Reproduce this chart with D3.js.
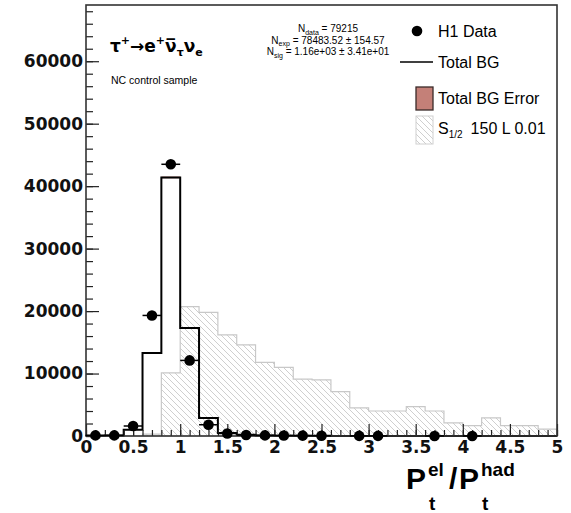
<!DOCTYPE html>
<html><head><meta charset="utf-8">
<script src="https://cdn.jsdelivr.net/npm/d3@7"></script>
<style>body{margin:0;background:#fff}svg{display:block}</style>
</head><body><svg id="c" width="571" height="513"></svg>
<script>
const binLow  = [0,0.2,0.4,0.6,0.8,1.0,1.2,1.4,1.6,1.8,2.0,2.2,2.4,2.6,2.8,3.0,3.2,3.4,3.6,3.8,4.0,4.2,4.4,4.6,4.8];
const binHigh = [0.2,0.4,0.6,0.8,1.0,1.2,1.4,1.6,1.8,2.0,2.2,2.4,2.6,2.8,3.0,3.2,3.4,3.6,3.8,4.0,4.2,4.4,4.6,4.8,5.0];
const binCenter = [0.1,0.3,0.5,0.7,0.9,1.1,1.3,1.5,1.7,1.9,2.1,2.3,2.5,2.7,2.9,3.1,3.3,3.5,3.7,3.9,4.1,4.3,4.5,4.7,4.9];
const h1Data   = [100,100,1600,19300,43500,12100,1800,400,150,100,80,60,40,0,20,20,0,0,10,0,10,0,0,0,0];
const totalBG  = [50,80,1000,13300,41400,17300,2900,500,200,100,60,40,30,20,15,10,8,6,5,4,3,2,2,1,1];
const totalBGErr = [10,15,40,90,150,100,40,20,10,8,6,5,4,3,3,2,2,2,2,1,1,1,1,1,1];
const signalS12 = [0,0,0,300,10100,20700,19800,16200,14600,11800,11000,9100,9000,7100,4500,4000,4000,4700,4000,2100,1650,2900,1650,1650,1100];
const xTickVals = [0,0.5,1,1.5,2,2.5,3,3.5,4,4.5,5];
const xTickLabels = ["0","0.5","1","1.5","2","2.5","3","3.5","4","4.5","5"];
const yTickVals = [0,10000,20000,30000,40000,50000,60000];
const yTickLabels = ["0","10000","20000","30000","40000","50000","60000"];
const statsLines = [["N","data"," = 79215"],["N","exp"," = 78483.52 \u00b1 154.57"],["N","sig"," = 1.16e+03 \u00b1 3.41e+01"]];

const svg = d3.select("#c");
const X0=86, X1=557, Y0=436, Y1=5;
const x = d3.scaleLinear().domain([0,5]).range([X0,X1]);
const y = d3.scaleLinear().domain([0,69000]).range([Y0,Y1]);

const defs = svg.append("defs");
const pat = defs.append("pattern").attr("id","hatch").attr("patternUnits","userSpaceOnUse")
  .attr("width",6).attr("height",6);
pat.append("path").attr("d","M-1,-1 L7,7 M-1,5 L1,7 M5,-1 L7,1")
  .attr("stroke","#cacaca").attr("stroke-width",0.9).attr("fill","none");

function stepPoints(vals){
  const pts=[[binLow[0],0]];
  vals.forEach((v,i)=>{pts.push([binLow[i],v]);pts.push([binHigh[i],v]);});
  pts.push([binHigh[binHigh.length-1],0]);
  return pts;
}
const line = d3.line().x(d=>x(d[0])).y(d=>y(d[1]));

// signal hatched
svg.append("path").attr("d", line(stepPoints(signalS12))+"Z").attr("fill","url(#hatch)").attr("stroke","#c8c8c8").attr("stroke-width",1.2);

// BG error band
svg.append("g").selectAll("rect").data(totalBG).join("rect")
  .attr("x",(d,i)=>x(binLow[i])).attr("width",(d,i)=>x(binHigh[i])-x(binLow[i]))
  .attr("y",(d,i)=>y(d+totalBGErr[i])).attr("height",(d,i)=>Math.max(0,y(d-totalBGErr[i])-y(d+totalBGErr[i])))
  .attr("fill","#c48078").attr("opacity",0.8);

// BG line
svg.append("path").attr("d", line(stepPoints(totalBG))).attr("fill","none").attr("stroke","#000").attr("stroke-width",2);

// axes
const fontTick = "'DejaVu Sans', sans-serif";
const xMinor = d3.range(0,5.0001,0.1);
const yMinor = d3.range(0,69000,2000);
svg.append("g").attr("transform",`translate(0,${Y0})`)
  .call(d3.axisBottom(x).tickValues(xMinor).tickSize(-6).tickFormat("")).call(g=>g.select(".domain").remove())
  .selectAll("line").attr("stroke","#222").attr("stroke-width",1.2);
svg.append("g").attr("transform",`translate(${X0},0)`)
  .call(d3.axisLeft(y).tickValues(yMinor).tickSize(-7).tickFormat("")).call(g=>g.select(".domain").remove())
  .selectAll("line").attr("stroke","#222").attr("stroke-width",1.2);
const gx = svg.append("g").attr("transform",`translate(0,${Y0})`)
  .call(d3.axisBottom(x).tickValues(xTickVals).tickSize(-12).tickPadding(5).tickFormat((d,i)=>xTickLabels[i]));
gx.select(".domain").remove();
gx.selectAll("line").attr("stroke","#222").attr("stroke-width",1.2);
gx.selectAll("text").attr("font-family",fontTick).attr("font-weight","bold").attr("font-size",17).attr("fill","#111");
const gy = svg.append("g").attr("transform",`translate(${X0},0)`)
  .call(d3.axisLeft(y).tickValues(yTickVals).tickSize(-13).tickPadding(3).tickFormat((d,i)=>yTickLabels[i]));
gy.select(".domain").remove();
gy.selectAll("line").attr("stroke","#222").attr("stroke-width",1.2);
gy.selectAll("text").attr("font-family",fontTick).attr("font-weight","bold").attr("font-size",17).attr("fill","#111");

// frame
svg.append("rect").attr("x",X0).attr("y",Y1).attr("width",X1-X0).attr("height",Y0-Y1)
  .attr("fill","none").attr("stroke","#333").attr("stroke-width",1.6);

// data points
const pts = h1Data.map((v,i)=>({v,c:binCenter[i],lo:binLow[i],hi:binHigh[i]})).filter(d=>d.v>0);
const gd = svg.append("g");
gd.selectAll("line").data(pts).join("line")
  .attr("x1",d=>x(d.lo)).attr("x2",d=>x(d.hi)).attr("y1",d=>y(d.v)).attr("y2",d=>y(d.v))
  .attr("stroke","#000").attr("stroke-width",1.5);
gd.selectAll("circle").data(pts).join("circle")
  .attr("cx",d=>x(d.c)).attr("cy",d=>y(d.v)).attr("r",5.3).attr("fill","#000");

// process label
const lab = svg.append("text").attr("x",110).attr("y",52).attr("font-family","'DejaVu Sans', sans-serif").attr("font-weight","bold").attr("font-size",17).attr("fill","#000");
lab.append("tspan").text("\u03c4");
lab.append("tspan").attr("font-size",11).attr("dy",-8).text("+");
lab.append("tspan").attr("dy",8).text("\u2192e");
lab.append("tspan").attr("font-size",11).attr("dy",-8).text("+");
lab.append("tspan").attr("dy",8).text("\u03bd\u0305");
lab.append("tspan").attr("font-size",11).attr("dy",4).text("\u03c4");
lab.append("tspan").attr("dy",-4).text("\u03bd");
lab.append("tspan").attr("font-size",11).attr("dy",4).text("e");
svg.append("text").attr("x",111).attr("y",84).attr("font-family","'Liberation Sans', Arial, sans-serif").attr("font-size",10.5).text("NC control sample");

// stats
statsLines.forEach((s,i)=>{
  const t = svg.append("text").attr("x",328).attr("y",32+i*11.5).attr("text-anchor","middle")
    .attr("font-family","'Liberation Sans', Arial, sans-serif").attr("font-size",10);
  t.append("tspan").text(s[0]);
  t.append("tspan").attr("font-size",7).attr("dy",2.5).text(s[1]);
  t.append("tspan").attr("dy",-2.5).text(s[2]);
});

// legend
const lf = "'Liberation Sans', Arial, sans-serif";
svg.append("circle").attr("cx",417).attr("cy",31).attr("r",5.3).attr("fill","#000");
svg.append("text").attr("x",438).attr("y",31).attr("dy","0.36em").attr("font-family",lf).attr("font-size",16).text("H1 Data");
svg.append("line").attr("x1",400).attr("x2",433).attr("y1",62).attr("y2",62).attr("stroke","#000").attr("stroke-width",1.5);
svg.append("text").attr("x",438).attr("y",62).attr("dy","0.36em").attr("font-family",lf).attr("font-size",16).text("Total BG");
svg.append("rect").attr("x",416).attr("y",87).attr("width",17).attr("height",23).attr("fill","#c48078").attr("stroke","#3a2a28").attr("stroke-width",1.3);
svg.append("text").attr("x",438).attr("y",98).attr("dy","0.36em").attr("font-family",lf).attr("font-size",16).text("Total BG Error");
svg.append("rect").attr("x",416).attr("y",116).attr("width",17).attr("height",28).attr("fill","url(#hatch)").attr("stroke","#d0d0d0").attr("stroke-width",1);
const st = svg.append("text").attr("x",438).attr("y",128).attr("dy","0.36em").attr("font-family",lf).attr("font-size",16);
st.append("tspan").text("S");
st.append("tspan").attr("font-size",10).attr("dy",4).text("1/2");
st.append("tspan").attr("dy",-4).attr("dx",8).text("150 L 0.01");

// x title: P_t^el / P_t^had
const tf = "'Liberation Sans', Arial, sans-serif";
const title = svg.append("g").attr("font-family",tf).attr("font-weight","bold").attr("fill","#000");
title.append("text").attr("x",406).attr("y",489).attr("font-size",30).text("P");
title.append("text").attr("x",428).attr("y",476).attr("font-size",19).text("el");
title.append("text").attr("x",429).attr("y",510).attr("font-size",19).text("t");
title.append("text").attr("x",449).attr("y",489).attr("font-size",30).text("/");
title.append("text").attr("x",459).attr("y",489).attr("font-size",30).text("P");
title.append("text").attr("x",481).attr("y",476).attr("font-size",19).text("had");
title.append("text").attr("x",482).attr("y",510).attr("font-size",19).text("t");
</script></body></html>
